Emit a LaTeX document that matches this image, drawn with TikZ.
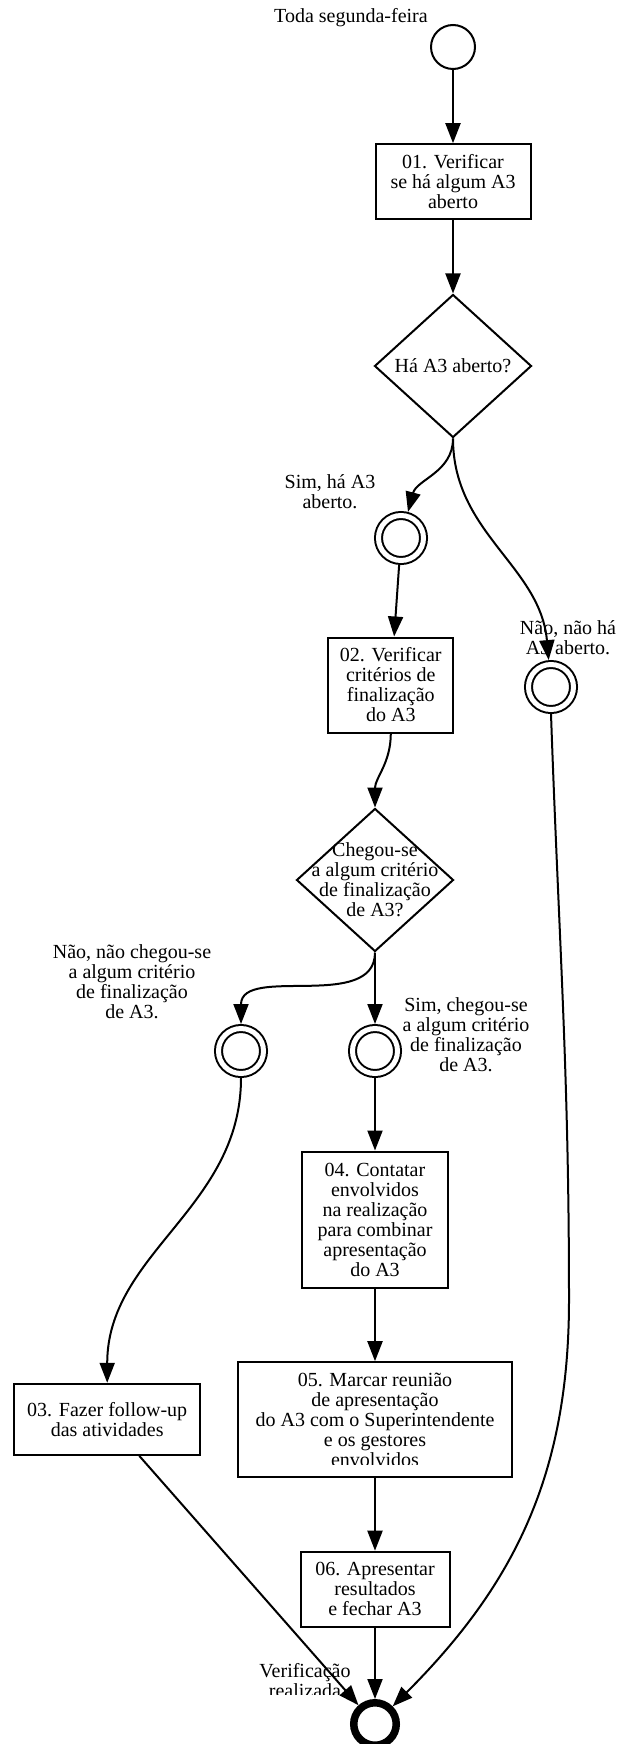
\documentclass[tikz,border=0pt]{standalone}
\usepackage{fontspec}
\setmainfont{Liberation Serif}
\usetikzlibrary{shapes.geometric,arrows.meta}

\begin{document}
\begin{tikzpicture}[x=1pt, y=1pt,
  every node/.style={font=\fontsize{20}{20}\selectfont, align=center, inner sep=0pt},
  task/.style={draw, rectangle, line width=2pt},
  decision/.style={draw, diamond, line width=2pt, minimum width=157pt, minimum height=143pt},
  startev/.style={draw, circle, line width=2pt, minimum size=44pt},
  midev/.style={draw, circle, line width=2pt, double, double distance=5pt, minimum size=45pt, outer sep=4.5pt},
  endev/.style={draw, circle, line width=7.5pt, minimum size=42.5pt},
  flow/.style={line width=2pt, -{Triangle[length=20pt,width=15pt]}}]
\useasboundingbox (0,0) rectangle (622,-1744);

\node[startev] (start) at (453,-47) {};
\node (lblstart) at (351,-18) {Toda segunda-feira};

\node[task, minimum width=155pt, minimum height=75pt] (box01) at (453,-181.7) {01. Verificar\\se há algum A3\\aberto};
\node[decision, label={center:Há A3 aberto?}] (dec1) at (453,-366) {};

\node[midev] (ev1) at (401,-538) {};
\node (lblsim) at (330,-491.5) {Sim, há A3\\aberto.};
\node[midev] (ev2) at (551,-687) {};

\node[task, minimum width=125pt, minimum height=95pt] (box02) at (390.8,-685) {02. Verificar\\critérios de\\finalização\\do A3};
\node[decision, label={[align=center]center:Chegou-se\\a algum critério\\de finalização\\de A3?}] (dec2) at (375,-880) {};

\node[midev] (ev3) at (241,-1051) {};
\node (lblnaochegou) at (132,-982) {Não, não chegou-se\\a algum critério\\de finalização\\de A3.};
\node[midev] (ev4) at (375,-1051) {};
\node (lblsimchegou) at (466,-1035) {Sim, chegou-se\\a algum critério\\de finalização\\de A3.};

\node[task, minimum width=146pt, minimum height=136pt] (box04) at (375,-1219.5) {04. Contatar\\envolvidos\\na realização\\para combinar\\apresentação\\do A3};
\node[task, minimum width=274pt, minimum height=115pt] (box05) at (375,-1419.7) {};
\begin{scope}
  \clip (box05.north west) rectangle ([yshift=14pt]box05.south east);
  \node (txt05) at (box05) {05. Marcar reunião\\de apresentação\\do A3 com o Superintendente\\e os gestores\\envolvidos};
\end{scope}
\node[task, minimum width=149pt, minimum height=75pt] (box06) at (375,-1589.2) {06. Apresentar\\resultados\\e fechar A3};
\node[task, minimum width=186pt, minimum height=71pt] (box03) at (107.2,-1419.3) {03. Fazer follow-up\\das atividades};

\node[endev] (finish) at (375,-1724) {};
\begin{scope}
  \clip (200,-1650) rectangle (360,-1694);
  \node (lblfim) at (305,-1681) {Verificação\\realizada};
\end{scope}

\coordinate (bend) at (569,-1300);

\draw[flow] (start) -- (box01);
\draw[flow] (box01) -- (dec1);
\draw[flow] (dec1.south) to[out=-90,in=75] (ev1);
\draw[flow] (dec1.south) to[out=-90,in=95] (ev2);
\draw[flow] (ev1) -- (box02);
\draw[flow] (box02.south) to[out=-90,in=90] (dec2.north);
\draw[flow] (dec2.south) to[out=-90,in=90] (ev3);
\draw[flow] (dec2) -- (ev4);
\draw[flow] (ev3.south) to[out=-90,in=90] (box03.north);
\draw[flow] (ev4) -- (box04);
\draw[flow] (box04) -- (box05);
\draw[flow] (box05) -- (box06);
\draw[flow] (box06) -- (finish);
\draw[flow] (box03) -- (finish);
\draw[flow] (ev2.south) to[out=-88,in=90] (bend) to[out=-90,in=45] (finish);

\node at (568,-638) {Não, não há\\A3 aberto.};
\end{tikzpicture}
\end{document}
